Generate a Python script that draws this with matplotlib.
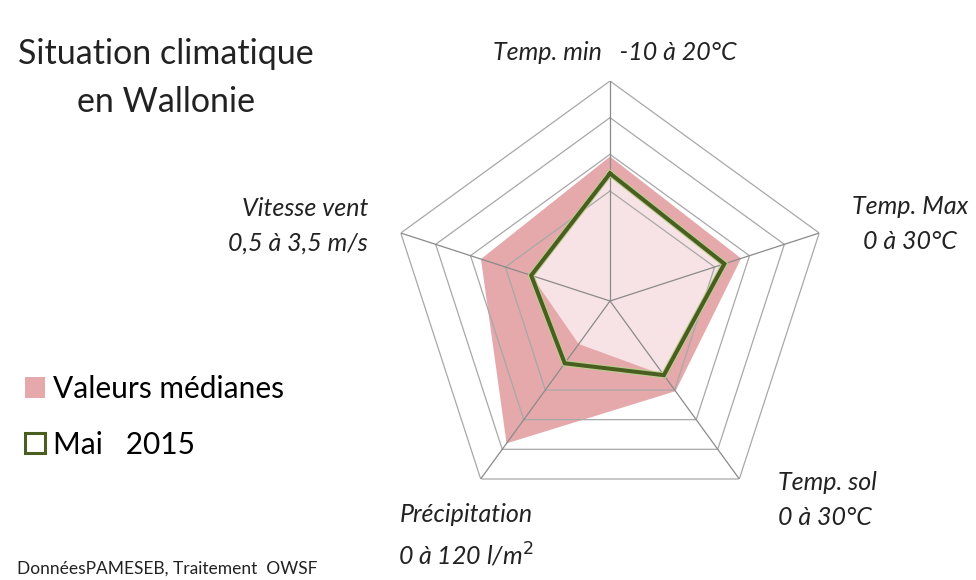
import numpy as np
import matplotlib
matplotlib.use('Agg')
import matplotlib.pyplot as plt
from matplotlib.patches import Patch

# axes of the radar, clockwise from the top
categories = ['Temp. min', 'Temp. Max', 'Temp. sol', 'Précipitation', 'Vitesse vent']
range_min = [-10, 0, 0, 0, 0.5]
range_max = [20, 30, 30, 120, 3.5]

medianes = [9.7, 18.8, 15.2, 96, 2.35]
mai_2015 = [7.4, 16.4, 12.5, 42, 1.63]
zone_claire = [7.4, 16.4, 12.5, 29, 1.63]  # light inner area

ring_levels = [3 / 6, 4 / 6, 5 / 6, 1.0]

W, H = 976, 580
plt.rcParams['font.family'] = ['Lato', 'DejaVu Sans']


def px(x, y):
    # pixel position -> figure fraction
    return x / W, 1 - y / H


def norm(vals):
    v = np.array(vals, dtype=float)
    return (v - np.array(range_min)) / (np.array(range_max) - np.array(range_min))


def closed(a):
    return np.append(a, a[0])


fig = plt.figure(figsize=(W / 100, H / 100), dpi=100)

cx, cy, R = 610, 301, 220
ax = fig.add_axes([(cx - R) / W, (H - cy - R) / H, 2 * R / W, 2 * R / H], projection='polar')
ax.set_theta_zero_location('N')
ax.set_theta_direction(-1)

angles = np.linspace(0, 2 * np.pi, len(categories), endpoint=False)

ax.fill(closed(angles), closed(norm(medianes)), color='#e5a9ab', lw=0, zorder=1)
ax.fill(closed(angles), closed(norm(zone_claire)), color='#f7e3e5', lw=0, zorder=2)

# grid rings and spokes
for lvl in ring_levels:
    ax.plot(closed(angles), [lvl] * (len(angles) + 1), color='#a8a8a8', lw=0.9, zorder=3)
for a in angles:
    ax.plot([a, a], [0, 1], color='#8a8a8a', lw=0.9, zorder=3)

# Mai 2015 line
ax.plot(closed(angles), closed(norm(mai_2015)), color='#b9d08c', lw=4.4, zorder=4,
        solid_joinstyle='miter')
ax.plot(closed(angles), closed(norm(mai_2015)), color='#4a5e22', lw=2.9, zorder=5,
        solid_joinstyle='miter')

ax.set_ylim(0, 1)
ax.grid(False)
ax.spines['polar'].set_visible(False)
ax.set_xticks([])
ax.set_yticks([])
ax.patch.set_alpha(0)

# axis labels
lab = dict(fontsize=18, style='italic', color='#222222', linespacing=1.6)
fig.text(*px(615, 52), 'Temp. min   -10 à 20°C', ha='center', va='center', **lab)
fig.text(*px(910, 224), 'Temp. Max\n0 à 30°C', ha='center', va='center', **lab)
fig.text(*px(368, 226), 'Vitesse vent\n0,5 à 3,5 m/s', ha='right', va='center', **lab)
fig.text(*px(778, 500), 'Temp. sol\n0 à 30°C', ha='left', va='center', **lab)
fig.text(*px(466, 536), 'Précipitation\n0 à 120 l/m$^2$', ha='center', va='center', **lab)

# title
fig.text(*px(166, 78), 'Situation climatique\nen Wallonie', ha='center', va='center',
         fontsize=24.5, color='#222222', linespacing=1.65)

# legend
handles = [Patch(facecolor='#e5a9ab', edgecolor='none', label='Valeurs médianes'),
           Patch(facecolor='white', edgecolor='#4a5e22', lw=2.2, label='Mai   2015')]
fig.legend(handles=handles, loc='upper left', bbox_to_anchor=px(13, 363), frameon=False,
           fontsize=21.5, handlelength=0.67, handleheight=0.67, handletextpad=0.27,
           labelspacing=0.93, borderaxespad=0)

fig.text(*px(17, 569), 'DonnéesPAMESEB, Traitement  OWSF', ha='left', va='center',
         fontsize=12.5, color='#222222')

fig.savefig('out.png', dpi=100)
